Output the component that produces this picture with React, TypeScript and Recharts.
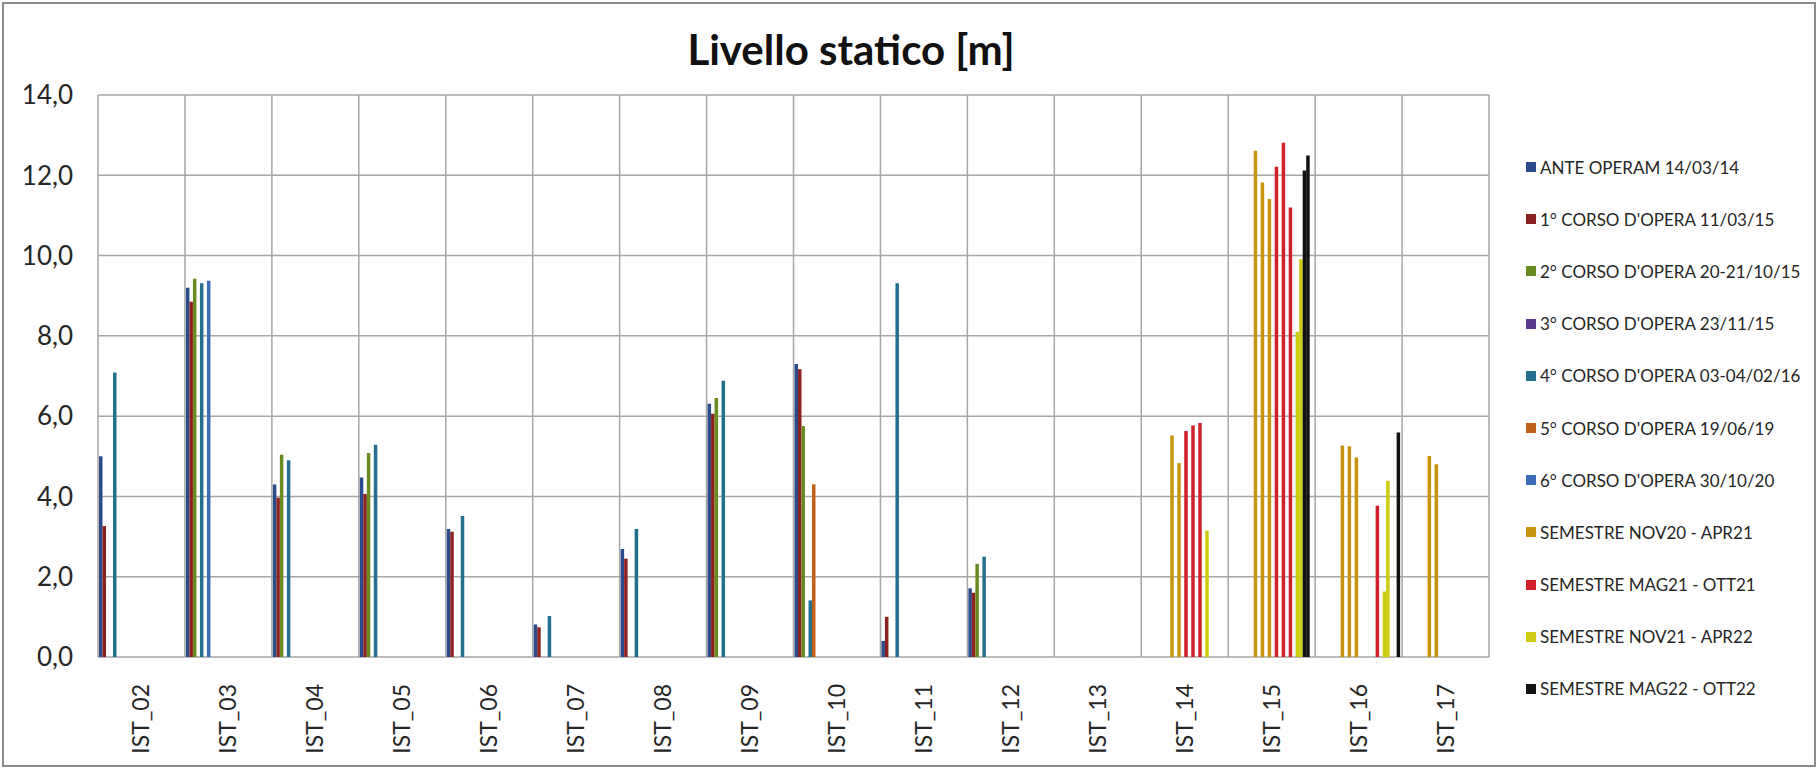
import { BarChart, Bar, XAxis, YAxis, CartesianGrid } from 'recharts'

const _ = null

const CATEGORIES = [
  'IST_02', 'IST_03', 'IST_04', 'IST_05', 'IST_06', 'IST_07', 'IST_08', 'IST_09',
  'IST_10', 'IST_11', 'IST_12', 'IST_13', 'IST_14', 'IST_15', 'IST_16', 'IST_17',
]

const Y_TICKS = [0, 2, 4, 6, 8, 10, 12, 14]

// campaigns, one value per well (null = not measured)
const ANTE_OPERAM = [5.0, 9.2, 4.3, 4.47, 3.19, 0.81, 2.69, 6.31, 7.3, 0.4, 1.71, _, _, _, _, _]
const CORSO_1 = [3.26, 8.85, 3.97, 4.06, 3.12, 0.74, 2.45, 6.06, 7.17, 1.0, 1.6, _, _, _, _, _]
const CORSO_2 = [_, 9.42, 5.04, 5.08, _, _, _, 6.45, 5.75, _, 2.32, _, _, _, _, _]
const CORSO_3 = [_, _, _, _, _, _, _, _, _, _, _, _, _, _, _, _]
const CORSO_4 = [7.09, 9.31, 4.9, 5.29, 3.51, 1.02, 3.19, 6.88, 1.41, 9.31, 2.5, _, _, _, _, _]
const CORSO_5 = [_, _, _, _, _, _, _, _, 4.3, _, _, _, _, _, _, _]
const CORSO_6 = [_, 9.37, _, _, _, _, _, _, _, _, _, _, _, _, _, _]

// semester readings (several monthly readings per semester)
const NOV20_APR21 = [
  [_, _, _, _, _, _, _, _, _, _, _, _, _, 12.61, 5.27, 5.01],
  [_, _, _, _, _, _, _, _, _, _, _, _, 5.52, _, _, _],
  [_, _, _, _, _, _, _, _, _, _, _, _, _, 11.82, 5.25, 4.8],
  [_, _, _, _, _, _, _, _, _, _, _, _, 4.83, _, _, _],
  [_, _, _, _, _, _, _, _, _, _, _, _, _, 11.41, 4.97, _],
]
const MAG21_OTT21 = [
  [_, _, _, _, _, _, _, _, _, _, _, _, 5.63, _, _, _],
  [_, _, _, _, _, _, _, _, _, _, _, _, _, 12.21, _, _],
  [_, _, _, _, _, _, _, _, _, _, _, _, 5.77, _, _, _],
  [_, _, _, _, _, _, _, _, _, _, _, _, _, 12.81, _, _],
  [_, _, _, _, _, _, _, _, _, _, _, _, 5.83, _, _, _],
  [_, _, _, _, _, _, _, _, _, _, _, _, _, 11.2, 3.77, _],
]
const NOV21_APR22 = [
  [_, _, _, _, _, _, _, _, _, _, _, _, 3.15, _, _, _],
  [_, _, _, _, _, _, _, _, _, _, _, _, _, 8.1, 1.63, _],
  [_, _, _, _, _, _, _, _, _, _, _, _, _, 9.91, 4.39, _],
]
const MAG22_OTT22 = [
  [_, _, _, _, _, _, _, _, _, _, _, _, _, 12.12, _, _],
  [_, _, _, _, _, _, _, _, _, _, _, _, _, 12.49, _, _],
  [_, _, _, _, _, _, _, _, _, _, _, _, _, _, 5.59, _],
]

const LEGEND_LABELS = [
  'ANTE OPERAM 14/03/14',
  "1° CORSO D'OPERA 11/03/15",
  "2° CORSO D'OPERA 20-21/10/15",
  "3° CORSO D'OPERA 23/11/15",
  "4° CORSO D'OPERA 03-04/02/16",
  "5° CORSO D'OPERA 19/06/19",
  "6° CORSO D'OPERA 30/10/20",
  'SEMESTRE NOV20 - APR21',
  'SEMESTRE MAG21 - OTT21',
  'SEMESTRE NOV21 - APR22',
  'SEMESTRE MAG22 - OTT22',
]
const LEGEND_COLORS = [
  '#2b4c8c', '#8e2020', '#6a8a22', '#5a3b8c', '#23708e', '#c2601a',
  '#3b6cb7', '#c8930f', '#d0202a', '#cccc12', '#111111',
]

const GROUPS = [
  [ANTE_OPERAM], [CORSO_1], [CORSO_2], [CORSO_3], [CORSO_4], [CORSO_5], [CORSO_6],
  NOV20_APR21, MAG21_OTT21, NOV21_APR22, MAG22_OTT22,
]

const SERIES = GROUPS.flatMap((rows, g) =>
  rows.map((values, r) => ({ key: `s${g}_${r}`, color: LEGEND_COLORS[g], values })),
)

const data = CATEGORIES.map((name, i) => {
  const row: Record<string, string | number | null> = { name }
  SERIES.forEach((s) => { row[s.key] = s.values[i] })
  return row
})

const FONT = 'Lato, "Open Sans", sans-serif'

function WellTick({ x, y, payload }: any) {
  return (
    <text
      x={x}
      y={y}
      dx={-27}
      dy={8}
      transform={`rotate(-90, ${x}, ${y})`}
      textAnchor="end"
      fontSize={23}
      fontFamily={FONT}
      fill="#262626"
    >
      {payload.value}
    </text>
  )
}

function LegendList() {
  return (
    <div
      style={{
        position: 'absolute', left: 1526, top: 141,
        fontFamily: FONT, fontSize: 17, color: '#262626',
      }}
    >
      {LEGEND_LABELS.map((label, i) => (
        <div key={label} style={{ height: 52.2, display: 'flex', alignItems: 'center', whiteSpace: 'nowrap' }}>
          <span style={{ width: 10, height: 10, background: LEGEND_COLORS[i], marginRight: 4, display: 'inline-block' }} />
          {label}
        </div>
      ))}
    </div>
  )
}

export default function App() {
  return (
    <div style={{ position: 'absolute', left: 0, top: 0, width: 1820, height: 769, background: '#fff' }}>
      <div
        style={{
          position: 'absolute', left: 2, top: 2, width: 1814, height: 765,
          border: '2px solid #8c8c8c', boxSizing: 'border-box',
        }}
      />
      <div
        style={{
          position: 'absolute', left: 0, top: 22, width: 1702, textAlign: 'center',
          fontFamily: FONT, fontWeight: 700, fontSize: 42, lineHeight: '54px', color: '#111',
        }}
      >
        Livello statico [m]
      </div>
      <div style={{ position: 'absolute', left: 0, top: 0 }}>
        <BarChart
          width={1820}
          height={769}
          data={data}
          margin={{ top: 95, right: 331, bottom: 0, left: 0 }}
          barSize={3.5}
          barGap={0}
          barCategoryGap={0}
        >
          <CartesianGrid
            stroke="#a6a6a6"
            strokeWidth={1.5}
            verticalCoordinatesGenerator={({ offset }: any) =>
              [...CATEGORIES, 'end'].map((_c, i) => offset.left + (i * offset.width) / CATEGORIES.length)
            }
          />
          <XAxis
            dataKey="name"
            interval={0}
            height={112}
            tickLine={false}
            axisLine={false}
            tickSize={0}
            tickMargin={0}
            tick={<WellTick />}
          />
          <YAxis
            domain={[0, 14]}
            ticks={Y_TICKS}
            width={98}
            tickLine={false}
            axisLine={false}
            tickSize={0}
            tickMargin={25}
            tickFormatter={(v: number) => v.toFixed(1).replace('.', ',')}
            tick={{ fontSize: 26, fontFamily: FONT, fill: '#262626' }}
          />
          {SERIES.map((s) => (
            <Bar key={s.key} dataKey={s.key} fill={s.color} isAnimationActive={false} />
          ))}
        </BarChart>
      </div>
      <LegendList />
    </div>
  )
}
